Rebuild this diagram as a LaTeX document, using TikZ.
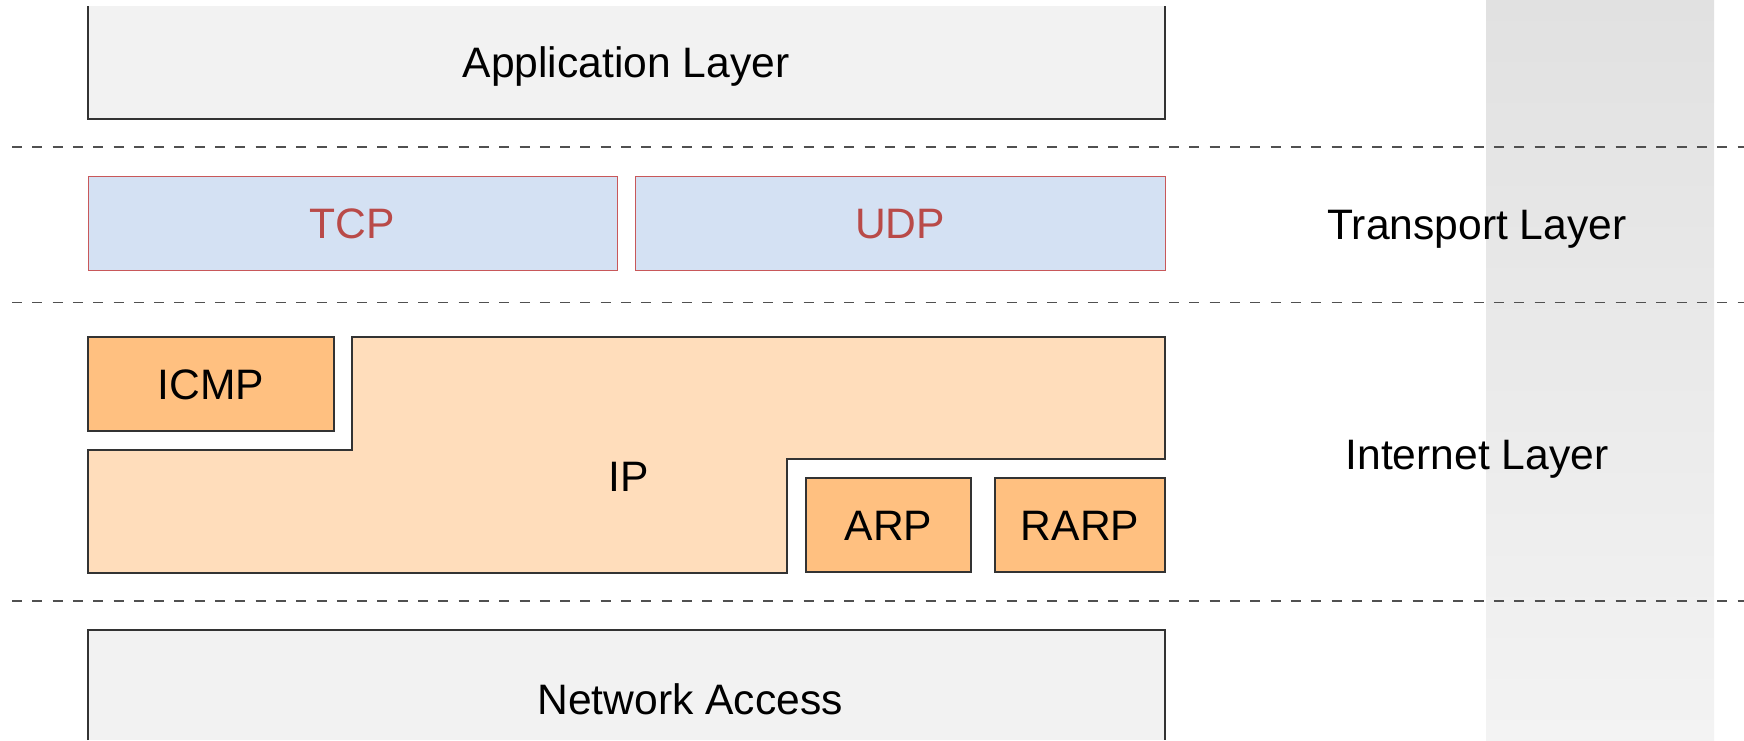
\documentclass[tikz,border=0pt]{standalone}
\usepackage{fontspec}
\setmainfont{Liberation Sans}
\definecolor{bandtop}{HTML}{E1E1E1}
\definecolor{bandbot}{HTML}{F3F3F3}
\definecolor{appfill}{HTML}{F2F2F2}
\definecolor{tfill}{HTML}{D4E1F3}
\definecolor{tline}{HTML}{C8585A}
\definecolor{ttext}{HTML}{B94A48}
\definecolor{ipfill}{HTML}{FFDDBB}
\definecolor{protofill}{HTML}{FFC080}
\definecolor{edge}{HTML}{333333}
\definecolor{sepline}{HTML}{505050}
\begin{document}
\begin{tikzpicture}[x=0.5pt,y=-0.5pt,
  every node/.style={font=\fontsize{21.3}{25}\selectfont, inner sep=0pt,
    text height=15.25pt, text depth=0pt},
  boxline/.style={draw=edge, line width=0.6pt},
  sepline/.style={draw=sepline, line width=0.7pt, dash pattern=on 5pt off 5.15pt},
  transbox/.style={draw=tline, line width=0.5pt, fill=tfill, text=ttext,
    minimum height=47pt},
  protobox/.style={boxline, fill=protofill, minimum height=47pt},
  label/.style={text=black}]
\useasboundingbox (0,0) rectangle (1744,740);

% shaded column behind the layer names
\shade[top color=bandtop, bottom color=bandbot] (1486,0) rectangle (1714,740);

% application layer
\fill[appfill] (88,6) rectangle (1165,119);
\draw[boxline] (88,6) -- (88,119) -- (1165,119) -- (1165,6);
\node[label] (app) at (626,62) {Application Layer};

% layer separators
\draw[sepline] (12,147) -- (1744,147);
\draw[sepline] (12,302.5) -- (1744,302.5);
\draw[sepline] (12,601) -- (1744,601);

% transport layer
\node[transbox, minimum width=264.5pt] (tcp) at (352.5,223) {TCP};
\node[transbox, minimum width=265pt] (udp) at (900,223) {UDP};
\node[label] (transport) at (1477,224) {Transport Layer};

% internet layer
\filldraw[boxline, fill=ipfill]
  (88,450) -- (352,450) -- (352,337) -- (1165,337) -- (1165,459)
  -- (787,459) -- (787,573) -- (88,573) -- cycle;
\node[label] (ip) at (629,476) {IP};
\node[protobox, minimum width=123pt] (icmp) at (211,384) {ICMP};
\node[protobox, minimum width=82.5pt] (arp) at (888.5,525) {ARP};
\node[protobox, minimum width=85pt] (rarp) at (1080,525) {RARP};
\node[label] (internet) at (1477,454) {Internet Layer};

% network access
\fill[appfill] (88,630) rectangle (1165,740);
\draw[boxline] (88,740) -- (88,630) -- (1165,630) -- (1165,740);
\node[label] (net) at (690,699) {Network Access};
\end{tikzpicture}
\end{document}
